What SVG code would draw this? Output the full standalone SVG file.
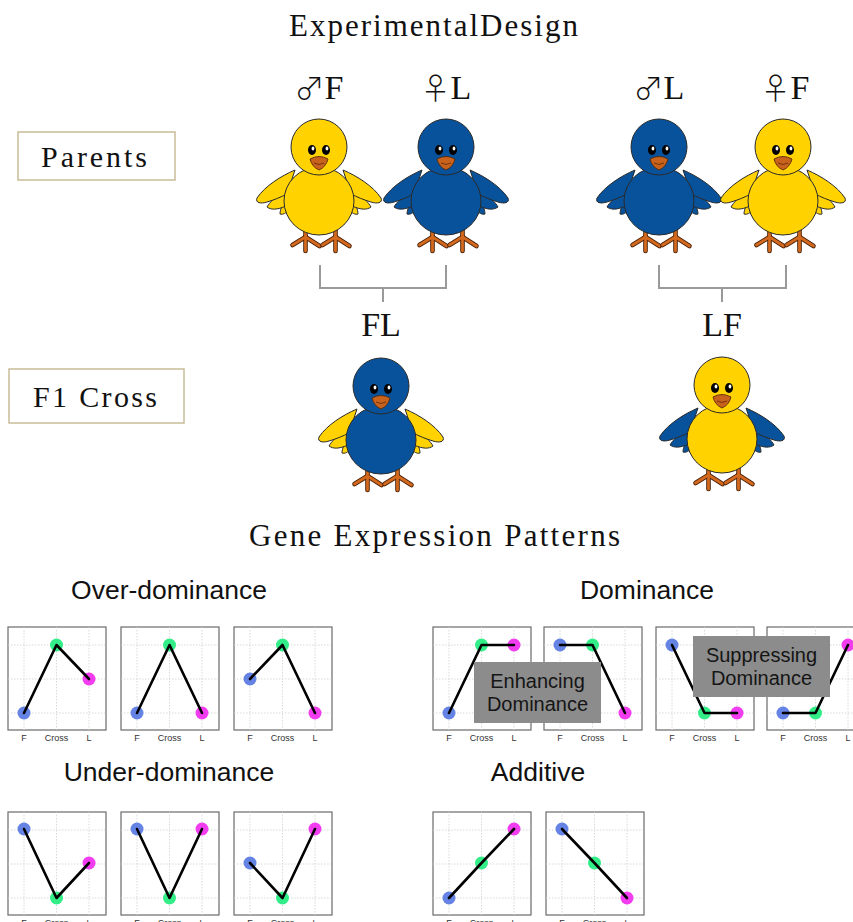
<svg xmlns="http://www.w3.org/2000/svg" xmlns:xlink="http://www.w3.org/1999/xlink" width="853" height="922" viewBox="0 0 853 922">
  <style>
    .serif { font-family: "Liberation Serif", "DejaVu Serif", serif; fill: #111; }
    .sym { font-family: "Noto Sans CJK JP", "DejaVu Sans", sans-serif; font-size: 30px; font-weight: 300; }
    .sans { font-family: "Liberation Sans", Arial, sans-serif; fill: #111; }
    .label-box { fill: #fff; stroke: #c9bd98; stroke-width: 1.5; }
    .bracket { fill: none; stroke: #9a9a9a; stroke-width: 2; }
    .outline { stroke: #2a2a2a; stroke-width: 1; }
    .frame { fill: #fff; stroke: #6a6a6a; stroke-width: 1.2; }
    .grid { stroke: #cfcfcf; stroke-width: 0.8; stroke-dasharray: 1.5 1.5; }
    .tick { font-family: "Liberation Sans", Arial, sans-serif; font-size: 9px; fill: #333; text-anchor: middle; }
    .trace { fill: none; stroke: #000; stroke-width: 2.6; stroke-linejoin: round; stroke-linecap: round; }
    .dF { fill: #6483e4; }
    .dC { fill: #33ee88; }
    .dL { fill: #f23cf0; }
    .tag { fill: #8c8c8c; }
    .tag-text { font-family: "Liberation Sans", Arial, sans-serif; font-size: 20px; fill: #151515; text-anchor: middle; }
    .heading { font-family: "Liberation Sans", Arial, sans-serif; font-size: 26.5px; fill: #111; text-anchor: middle; }
  </style>
  <defs>
    <!-- chick parts, head centre at the origin -->
    <g id="wing-half">
      <path class="outline" d="M -33,52 C -37,58 -39,63 -39,67 C -36,68 -33,66 -30,63 Z"/>
      <path class="outline" d="M -34,43 C -44,50 -50,56 -52,60 C -48,63 -42,63 -33,59 Z"/>
      <path class="outline" d="M -24,23 C -38,29 -54,39 -62,51 C -64,56 -58,57 -52,55 C -45,53 -38,50 -32,47 Z"/>
    </g>
    <g id="wings">
      <use xlink:href="#wing-half"/>
      <use xlink:href="#wing-half" transform="scale(-1,1)"/>
    </g>
    <g id="torso">
      <ellipse class="outline" cx="0" cy="54" rx="35" ry="34"/>
      <circle class="outline" cx="0" cy="0" r="28"/>
    </g>
    <g id="face">
      <ellipse cx="-7" cy="3" rx="4" ry="5" fill="#000"/>
      <ellipse cx="7" cy="3" rx="4" ry="5" fill="#000"/>
      <ellipse cx="-6" cy="1.5" rx="1.4" ry="2" fill="#fff"/>
      <ellipse cx="8" cy="1.5" rx="1.4" ry="2" fill="#fff"/>
      <path d="M -9,12 Q 0,7 9,12 Q 7,20 0,23 Q -7,20 -9,12 Z" fill="#c8621c" stroke="#5a2a08" stroke-width="0.9"/>
      <path d="M -5,16 Q 0,19 5,16" fill="none" stroke="#5a2a08" stroke-width="0.8"/>
    </g>
    <g id="foot">
      <g stroke="#4a2006" stroke-width="4.6" stroke-linecap="round" fill="none">
        <path d="M 0,75 L 0,104"/>
        <path d="M 0,90 L -13,98"/>
        <path d="M 0,90 L 14,99"/>
      </g>
      <g stroke="#d2691e" stroke-width="2.8" stroke-linecap="round" fill="none">
        <path d="M 0,75 L 0,104"/>
        <path d="M 0,90 L -13,98"/>
        <path d="M 0,90 L 14,99"/>
      </g>
    </g>
    <g id="legs">
      <use xlink:href="#foot" transform="translate(-13.5,0)"/>
      <use xlink:href="#foot" transform="translate(16.5,0)"/>
    </g>
  </defs>

  <!-- headings -->
  <text class="serif" x="289" y="36" font-size="31" textLength="289" lengthAdjust="spacing">ExperimentalDesign</text>
  <text class="serif" x="249" y="546" font-size="31" textLength="371" lengthAdjust="spacing">Gene Expression Patterns</text>

  <!-- row labels -->
  <g id="parents-label">
    <rect class="label-box" x="18" y="132" width="157" height="48"/>
    <text class="serif" x="41" y="167" font-size="30" textLength="106" lengthAdjust="spacing">Parents</text>
  </g>
  <g id="f1-label">
    <rect class="label-box" x="9" y="369" width="175" height="54"/>
    <text class="serif" x="33" y="407" font-size="30" textLength="124" lengthAdjust="spacing">F1 Cross</text>
  </g>

  <!-- parent labels -->
  <g class="serif" font-size="34" text-anchor="middle">
    <text x="319" y="99"><tspan class="sym">♂</tspan>F</text>
    <text x="446" y="99"><tspan class="sym">♀</tspan>L</text>
    <text x="659" y="99"><tspan class="sym">♂</tspan>L</text>
    <text x="785" y="99"><tspan class="sym">♀</tspan>F</text>
    <text x="381" y="336">FL</text>
    <text x="722" y="336">LF</text>
  </g>

  <!-- crossing brackets -->
  <g id="connectors">
    <path class="bracket" d="M 320,265 V 288 H 446 V 265 M 383,288 V 302"/>
    <path class="bracket" d="M 659,265 V 288 H 786 V 265 M 722,288 V 302"/>
  </g>

  <!-- chicks -->
  <g id="chick-male-F" transform="translate(319,147)">
    <use xlink:href="#legs"/>
    <use xlink:href="#wings" fill="#ffd200"/>
    <use xlink:href="#torso" fill="#ffd200"/>
    <use xlink:href="#face"/>
  </g>
  <g id="chick-female-L" transform="translate(446,147)">
    <use xlink:href="#legs"/>
    <use xlink:href="#wings" fill="#08529c"/>
    <use xlink:href="#torso" fill="#08529c"/>
    <use xlink:href="#face"/>
  </g>
  <g id="chick-male-L" transform="translate(659,147)">
    <use xlink:href="#legs"/>
    <use xlink:href="#wings" fill="#08529c"/>
    <use xlink:href="#torso" fill="#08529c"/>
    <use xlink:href="#face"/>
  </g>
  <g id="chick-female-F" transform="translate(783,147)">
    <use xlink:href="#legs"/>
    <use xlink:href="#wings" fill="#ffd200"/>
    <use xlink:href="#torso" fill="#ffd200"/>
    <use xlink:href="#face"/>
  </g>
  <g id="chick-FL" transform="translate(381,386)">
    <use xlink:href="#legs"/>
    <use xlink:href="#wings" fill="#ffd200"/>
    <use xlink:href="#torso" fill="#08529c"/>
    <use xlink:href="#face"/>
  </g>
  <g id="chick-LF" transform="translate(722,385)">
    <use xlink:href="#legs"/>
    <use xlink:href="#wings" fill="#08529c"/>
    <use xlink:href="#torso" fill="#ffd200"/>
    <use xlink:href="#face"/>
  </g>

  <!-- plot axes template: F x=16, Cross x=48.5, L x=81; levels y=18 / 52 / 86 -->
  <defs>
    <g id="axes">
      <rect class="frame" x="0" y="0" width="98" height="103"/>
      <path class="grid" d="M 16,0 V 103 M 48.5,0 V 103 M 81,0 V 103 M 0,18 H 98 M 0,52 H 98 M 0,86 H 98"/>
      <text class="tick" x="16" y="114">F</text>
      <text class="tick" x="48.5" y="114">Cross</text>
      <text class="tick" x="81" y="114">L</text>
    </g>
  </defs>

  <text class="heading" x="169" y="599">Over-dominance</text>
  <text class="heading" x="647" y="599">Dominance</text>
  <text class="heading" x="169" y="781">Under-dominance</text>
  <text class="heading" x="538" y="781">Additive</text>

  <!-- over-dominance -->
  <g id="over-1" transform="translate(8,627)">
    <use xlink:href="#axes"/>
    <circle class="dF" cx="16" cy="86" r="6.5"/><circle class="dC" cx="48.5" cy="18" r="6.5"/><circle class="dL" cx="81" cy="52" r="6.5"/>
    <polyline class="trace" points="16,86 48.5,18 81,52"/>
  </g>
  <g id="over-2" transform="translate(121,627)">
    <use xlink:href="#axes"/>
    <circle class="dF" cx="16" cy="86" r="6.5"/><circle class="dC" cx="48.5" cy="18" r="6.5"/><circle class="dL" cx="81" cy="86" r="6.5"/>
    <polyline class="trace" points="16,86 48.5,18 81,86"/>
  </g>
  <g id="over-3" transform="translate(234,627)">
    <use xlink:href="#axes"/>
    <circle class="dF" cx="16" cy="52" r="6.5"/><circle class="dC" cx="48.5" cy="18" r="6.5"/><circle class="dL" cx="81" cy="86" r="6.5"/>
    <polyline class="trace" points="16,52 48.5,18 81,86"/>
  </g>

  <!-- dominance -->
  <g id="dom-1" transform="translate(433,627)">
    <use xlink:href="#axes"/>
    <circle class="dF" cx="16" cy="86" r="6.5"/><circle class="dC" cx="48.5" cy="18" r="6.5"/><circle class="dL" cx="81" cy="18" r="6.5"/>
    <polyline class="trace" points="16,86 48.5,18 81,18"/>
  </g>
  <g id="dom-2" transform="translate(544,627)">
    <use xlink:href="#axes"/>
    <circle class="dF" cx="16" cy="18" r="6.5"/><circle class="dC" cx="48.5" cy="18" r="6.5"/><circle class="dL" cx="81" cy="86" r="6.5"/>
    <polyline class="trace" points="16,18 48.5,18 81,86"/>
  </g>
  <g id="dom-3" transform="translate(656,627)">
    <use xlink:href="#axes"/>
    <circle class="dF" cx="16" cy="18" r="6.5"/><circle class="dC" cx="48.5" cy="86" r="6.5"/><circle class="dL" cx="81" cy="86" r="6.5"/>
    <polyline class="trace" points="16,18 48.5,86 81,86"/>
  </g>
  <g id="dom-4" transform="translate(767,627)">
    <use xlink:href="#axes"/>
    <circle class="dF" cx="16" cy="86" r="6.5"/><circle class="dC" cx="48.5" cy="86" r="6.5"/><circle class="dL" cx="81" cy="18" r="6.5"/>
    <polyline class="trace" points="16,86 48.5,86 81,18"/>
  </g>

  <g id="tag-enhancing">
    <rect class="tag" x="474" y="662" width="127" height="61"/>
    <text class="tag-text" x="537.5" y="688">Enhancing</text>
    <text class="tag-text" x="537.5" y="711">Dominance</text>
  </g>
  <g id="tag-suppressing">
    <rect class="tag" x="693" y="636" width="137" height="61"/>
    <text class="tag-text" x="761.5" y="662">Suppressing</text>
    <text class="tag-text" x="761.5" y="685">Dominance</text>
  </g>

  <!-- under-dominance -->
  <g id="under-1" transform="translate(8,812)">
    <use xlink:href="#axes"/>
    <circle class="dF" cx="16" cy="17" r="6.5"/><circle class="dC" cx="48.5" cy="86" r="6.5"/><circle class="dL" cx="81" cy="51" r="6.5"/>
    <polyline class="trace" points="16,17 48.5,86 81,51"/>
  </g>
  <g id="under-2" transform="translate(121,812)">
    <use xlink:href="#axes"/>
    <circle class="dF" cx="16" cy="17" r="6.5"/><circle class="dC" cx="48.5" cy="86" r="6.5"/><circle class="dL" cx="81" cy="17" r="6.5"/>
    <polyline class="trace" points="16,17 48.5,86 81,17"/>
  </g>
  <g id="under-3" transform="translate(234,812)">
    <use xlink:href="#axes"/>
    <circle class="dF" cx="16" cy="51" r="6.5"/><circle class="dC" cx="48.5" cy="86" r="6.5"/><circle class="dL" cx="81" cy="17" r="6.5"/>
    <polyline class="trace" points="16,51 48.5,86 81,17"/>
  </g>

  <!-- additive -->
  <g id="add-1" transform="translate(433,812)">
    <use xlink:href="#axes"/>
    <circle class="dF" cx="16" cy="86" r="6.5"/><circle class="dC" cx="48.5" cy="51" r="6.5"/><circle class="dL" cx="81" cy="17" r="6.5"/>
    <polyline class="trace" points="16,86 48.5,51 81,17"/>
  </g>
  <g id="add-2" transform="translate(546,812)">
    <use xlink:href="#axes"/>
    <circle class="dF" cx="16" cy="17" r="6.5"/><circle class="dC" cx="48.5" cy="51" r="6.5"/><circle class="dL" cx="81" cy="86" r="6.5"/>
    <polyline class="trace" points="16,17 48.5,51 81,86"/>
  </g>
</svg>
